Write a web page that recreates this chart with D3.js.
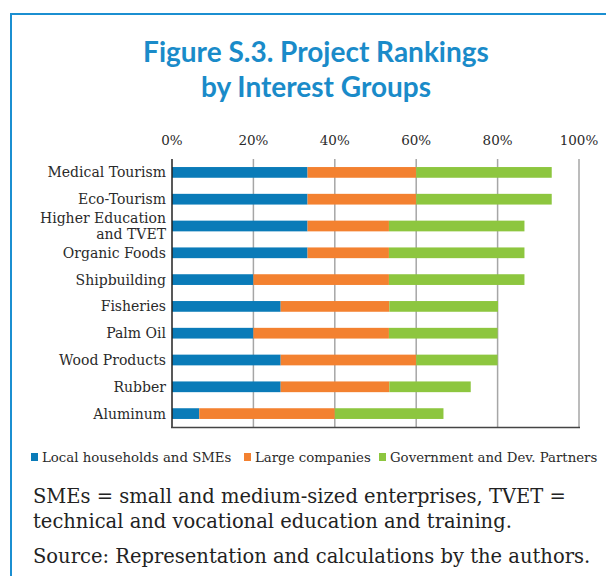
<!DOCTYPE html>
<html lang="en">
<head>
    <meta charset="UTF-8">
    <title>Project Rankings</title>
    <style>
        body { margin: 0; background: #fff; }
        svg { display: block; }
    </style>
</head>
<body>
    <script src="https://d3js.org/d3.v7.min.js"></script>
    <script>
        const width = 606,
              height = 576;

        // data (share of interest groups ranking each project, %)
        const categories = ["Medical Tourism", "Eco-Tourism", "Higher Education\nand TVET", "Organic Foods",
                            "Shipbuilding", "Fisheries", "Palm Oil", "Wood Products", "Rubber", "Aluminum"];
        const localSMEs   = [33.3, 33.3, 33.3, 33.3, 20.0, 26.7, 20.0, 26.7, 26.7, 6.7];
        const largeCos    = [26.7, 26.7, 20.0, 20.0, 33.3, 26.7, 33.3, 33.3, 26.7, 33.3];
        const government  = [33.3, 33.3, 33.3, 33.3, 33.3, 26.7, 26.7, 20.0, 20.0, 26.7];
        const seriesNames = ["Local households and SMEs", "Large companies", "Government and Dev. Partners"];
        const tickValues  = [0, 20, 40, 60, 80, 100];

        const colors = ["#0a7bb8", "#f38130", "#8dc63f"];
        const serif = "'DejaVu Serif', serif";

        var svg = d3.select('body')
                    .append('svg')
                    .attr('width', width)
                    .attr('height', height);

        // frame
        svg.append("path")
            .attr("d", "M11,576 L11,14 L606,14")
            .attr("fill", "none")
            .attr("stroke", "#1b8fd1")
            .attr("stroke-width", 2);

        // title
        var title = svg.append("text")
            .attr("text-anchor", "middle")
            .attr("fill", "#1a8bc9")
            .style("font-family", "Lato, sans-serif")
            .style("font-weight", "bold")
            .style("font-size", "28px");
        title.append("tspan").attr("x", 316).attr("y", 62).text("Figure S.3. Project Rankings");
        title.append("tspan").attr("x", 316).attr("y", 97).text("by Interest Groups");

        var x = d3.scaleLinear().domain([0, 100]).range([172, 579]);
        var y = d3.scaleBand().domain(categories).range([159, 427]).paddingInner(0.6).paddingOuter(0.3);

        // gridlines
        svg.append("g")
            .selectAll("line")
            .data(tickValues.slice(1))
            .enter()
            .append("line")
            .attr("x1", d => x(d)).attr("x2", d => x(d))
            .attr("y1", 159).attr("y2", 427)
            .style("stroke", "#a6a6a6")
            .style("stroke-width", 1.5);

        // top tick labels
        svg.append("g")
            .selectAll("text")
            .data(tickValues)
            .enter()
            .append("text")
            .attr("x", d => x(d))
            .attr("y", 145)
            .attr("text-anchor", "middle")
            .style("font-family", serif)
            .style("font-size", "13.5px")
            .style("fill", "#2a2a2a")
            .text(d => d + "%");

        // stacked bars
        var stackData = categories.map((c, i) => ({cat: c, a: localSMEs[i], b: largeCos[i], c: government[i]}));
        var stacked = d3.stack().keys(["a", "b", "c"])(stackData);

        svg.append("g")
            .selectAll("g")
            .data(stacked)
            .enter()
            .append("g")
            .attr("fill", (d, i) => colors[i])
            .selectAll("rect")
            .data(d => d)
            .enter()
            .append("rect")
            .attr("x", d => x(d[0]))
            .attr("y", d => y(d.data.cat))
            .attr("width", d => x(d[1]) - x(d[0]))
            .attr("height", y.bandwidth());

        // axis lines
        svg.append("line")
            .attr("x1", 172).attr("x2", 172).attr("y1", 159).attr("y2", 428)
            .style("stroke", "#222").style("stroke-width", 1.5);
        svg.append("line")
            .attr("x1", 171).attr("x2", 580).attr("y1", 427.5).attr("y2", 427.5)
            .style("stroke", "#444").style("stroke-width", 1.5);

        // category labels
        var labels = svg.append("g")
            .selectAll("text")
            .data(categories)
            .enter()
            .append("text")
            .attr("text-anchor", "end")
            .style("font-family", serif)
            .style("font-size", "14px")
            .style("fill", "#2a2a2a");
        labels.each(function(d) {
            var lines = d.split("\n");
            var cy = y(d) + y.bandwidth() / 2;
            var t = d3.select(this);
            lines.forEach((ln, k) => {
                t.append("tspan")
                    .attr("x", 166)
                    .attr("y", cy + 5 + (k - (lines.length - 1) / 2) * 16)
                    .text(ln);
            });
        });

        // legend
        var legendX = [31, 244, 379];
        var legend = svg.append("g")
            .selectAll("g")
            .data(seriesNames)
            .enter()
            .append("g")
            .attr("transform", (d, i) => "translate(" + legendX[i] + ",453)");
        legend.append("rect").attr("width", 7).attr("height", 8).attr("fill", (d, i) => colors[i]);
        legend.append("text")
            .attr("x", 11).attr("y", 8.5)
            .style("font-family", serif)
            .style("font-size", "13.3px")
            .style("fill", "#2a2a2a")
            .text(d => d);

        // notes
        var notes = ["SMEs = small and medium-sized enterprises, TVET =",
                     "technical and vocational education and training.",
                     "Source: Representation and calculations by the authors."];
        var notesY = [503, 528, 563];
        svg.append("g")
            .selectAll("text")
            .data(notes)
            .enter()
            .append("text")
            .attr("x", 33)
            .attr("y", (d, i) => notesY[i])
            .style("font-family", serif)
            .style("font-size", "19.5px")
            .style("fill", "#222")
            .text(d => d);
    </script>
</body>
</html>
